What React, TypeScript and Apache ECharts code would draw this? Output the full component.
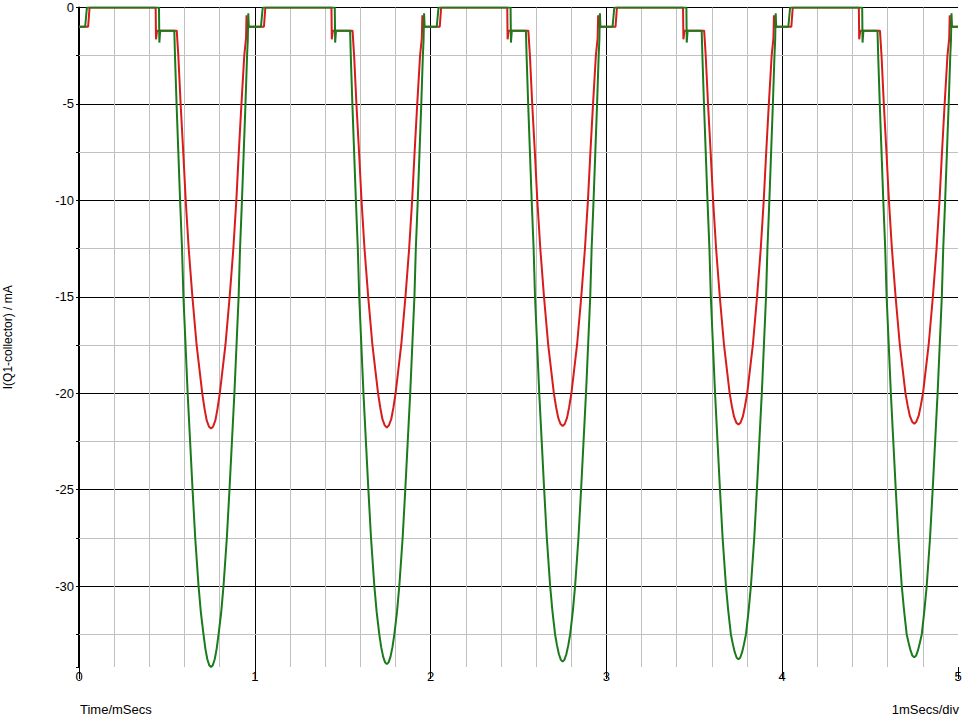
import React, { useEffect, useRef } from "react";
import * as echarts from "echarts";

// Phase (ms within one 1 ms period) at which each red sample was read
const redPhase = [
  0, 0.052, 0.06, 0.436, 0.438, 0.444, 0.556,
  0.565, 0.578, 0.593, 0.607, 0.624, 0.645, 0.669, 0.701,
  0.714, 0.726, 0.739, 0.751, 0.763, 0.776, 0.788,
  0.801, 0.833, 0.857, 0.878, 0.895, 0.909, 0.924, 0.94,
  0.95, 0.953, 0.956,
];
// Red trace values (mA), one array per period
const redCycle1 = [-1, -1, 0, 0, -1.65, -1.2, -1.2, -2.5, -5, -7.5, -10, -12.5, -15, -17.5, -20, -20.8, -21.4, -21.73, -21.84, -21.73, -21.4, -20.8, -20, -17.5, -15, -12.5, -10, -7.5, -5, -2.5, -1.6, -0.4, -1];
const redCycle2 = [-1, -1, 0, 0, -1.65, -1.2, -1.2, -2.5, -5, -7.5, -10, -12.5, -15, -17.5, -20, -20.77, -21.35, -21.67, -21.78, -21.67, -21.35, -20.77, -20, -17.5, -15, -12.5, -10, -7.5, -5, -2.5, -1.6, -0.4, -1];
const redCycle3 = [-1, -1, 0, 0, -1.65, -1.2, -1.2, -2.5, -5, -7.5, -10, -12.5, -15, -17.5, -20, -20.73, -21.28, -21.6, -21.7, -21.6, -21.28, -20.73, -20, -17.5, -15, -12.5, -10, -7.5, -5, -2.5, -1.6, -0.4, -1];
const redCycle4 = [-1, -1, 0, 0, -1.65, -1.2, -1.2, -2.5, -5, -7.5, -10, -12.5, -15, -17.5, -20, -20.69, -21.22, -21.53, -21.63, -21.53, -21.22, -20.69, -20, -17.5, -15, -12.5, -10, -7.5, -5, -2.5, -1.6, -0.4, -1];
const redCycle5 = [-1, -1, 0, 0, -1.65, -1.2, -1.2, -2.5, -5, -7.5, -10, -12.5, -15, -17.5, -20, -20.66, -21.18, -21.48, -21.58, -21.48, -21.18, -20.66, -20, -17.5, -15, -12.5, -10, -7.5, -5, -2.5, -1.6, -0.4, -1];

// Phase at which each green sample was read
const greenPhase = [
  0, 0.035, 0.045, 0.455, 0.457, 0.462, 0.542,
  0.546, 0.555, 0.565, 0.575, 0.586, 0.594, 0.606, 0.618, 0.632, 0.646, 0.661, 0.68, 0.693, 0.708,
  0.719, 0.73, 0.741, 0.751, 0.761, 0.772, 0.783,
  0.794, 0.809, 0.822, 0.841, 0.856, 0.87, 0.884, 0.896, 0.908, 0.916, 0.927, 0.937, 0.947, 0.956,
  0.96, 0.963, 0.966,
];
const greenCycle1 = [-1, -1, 0, 0, -1.82, -1.2, -1.2, -2.5, -5, -7.5, -10, -12.5, -15, -17.5, -20, -22.5, -25, -27.5, -30, -31.35, -32.5, -33.26, -33.8, -34.11, -34.2, -34.11, -33.8, -33.26, -32.5, -31.35, -30, -27.5, -25, -22.5, -20, -17.5, -15, -12.5, -10, -7.5, -5, -2.5, -1.7, -0.3, -1];
const greenCycle2 = [-1, -1, 0, 0, -1.82, -1.2, -1.2, -2.5, -5, -7.5, -10, -12.5, -15, -17.5, -20, -22.5, -25, -27.5, -30, -31.33, -32.5, -33.17, -33.66, -33.96, -34.05, -33.96, -33.66, -33.17, -32.5, -31.33, -30, -27.5, -25, -22.5, -20, -17.5, -15, -12.5, -10, -7.5, -5, -2.5, -1.7, -0.3, -1];
const greenCycle3 = [-1, -1, 0, 0, -1.82, -1.2, -1.2, -2.5, -5, -7.5, -10, -12.5, -15, -17.5, -20, -22.5, -25, -27.5, -30, -31.3, -32.5, -33.08, -33.54, -33.83, -33.92, -33.83, -33.54, -33.08, -32.5, -31.3, -30, -27.5, -25, -22.5, -20, -17.5, -15, -12.5, -10, -7.5, -5, -2.5, -1.7, -0.3, -1];
const greenCycle4 = [-1, -1, 0, 0, -1.82, -1.2, -1.2, -2.5, -5, -7.5, -10, -12.5, -15, -17.5, -20, -22.5, -25, -27.5, -30, -31.28, -32.5, -33.0, -33.43, -33.72, -33.8, -33.72, -33.43, -33.0, -32.5, -31.28, -30, -27.5, -25, -22.5, -20, -17.5, -15, -12.5, -10, -7.5, -5, -2.5, -1.7, -0.3, -1];
const greenCycle5 = [-1, -1, 0, 0, -1.82, -1.2, -1.2, -2.5, -5, -7.5, -10, -12.5, -15, -17.5, -20, -22.5, -25, -27.5, -30, -31.25, -32.5, -32.94, -33.34, -33.62, -33.7, -33.62, -33.34, -32.94, -32.5, -31.25, -30, -27.5, -25, -22.5, -20, -17.5, -15, -12.5, -10, -7.5, -5, -2.5, -1.7, -0.3, -1];

const cycleStarts = [0, 1, 2, 3, 4];
const endTime = 5;
const redEnd = -1;
const greenEnd = -1;

const yMin = -34.2;
const yMax = 0;
const yMinorGrid = [-2.5, -7.5, -12.5, -17.5, -22.5, -27.5, -32.5];
const xTitle = "Time/mSecs";
const xScaleNote = "1mSecs/div";
const yTitle = "I(Q1-collector) / mA";

function build(phase: number[], cycles: number[][], endVal: number) {
  const out: number[][] = [];
  cycles.forEach((vals, ci) => {
    phase.forEach((p, i) => out.push([cycleStarts[ci] + p, vals[i]]));
  });
  out.push([endTime, endVal]);
  return out;
}

const FONT = 'Arial, "Liberation Sans", sans-serif';

export default function App() {
  const ref = useRef<HTMLDivElement>(null);
  useEffect(() => {
    if (!ref.current) return;
    const chart = echarts.init(ref.current, undefined, { renderer: "svg" });
    const redData = build(redPhase, [redCycle1, redCycle2, redCycle3, redCycle4, redCycle5], redEnd);
    const greenData = build(greenPhase, [greenCycle1, greenCycle2, greenCycle3, greenCycle4, greenCycle5], greenEnd);
    chart.setOption({
      animation: false,
      backgroundColor: "#ffffff",
      textStyle: { fontFamily: FONT },
      grid: { left: 79, right: 5, top: 7.5, bottom: 49, containLabel: false, outerBoundsMode: "none" },
      xAxis: {
        type: "value",
        min: 0,
        max: 5,
        interval: 1,
        axisLine: { show: false, onZero: false },
        axisTick: { show: true, length: 12, lineStyle: { color: "#000" } },
        axisLabel: { color: "#000", fontSize: 13, margin: 3, fontFamily: FONT },
        splitLine: { show: true, showMinLine: false, showMaxLine: false, lineStyle: { color: "#000", width: 1 } },
        minorTick: { show: false, splitNumber: 5 },
        minorSplitLine: { show: true, lineStyle: { color: "#c0c0c0", width: 1 } },
      },
      yAxis: {
        type: "value",
        min: yMin,
        max: yMax,
        splitNumber: 7,
        axisLine: { show: true, onZero: false, lineStyle: { color: "#000", width: 2 } },
        axisTick: { show: true, length: 3, lineStyle: { color: "#000" } },
        minorTick: { show: true, splitNumber: 2, length: 3, lineStyle: { color: "#000" } },
        axisLabel: { color: "#000", fontSize: 13, margin: 5, showMinLabel: false, fontFamily: FONT },
        splitLine: { show: true, showMinLine: false, lineStyle: { color: "#000", width: 1 } },
        name: yTitle,
        nameLocation: "middle",
        nameGap: 65,
        nameTextStyle: { color: "#000", fontSize: 12, fontFamily: FONT },
      },
      graphic: [
        { type: "text", x: 80, y: 709, style: { text: xTitle, fill: "#000", font: `13px ${FONT}`, align: "left", verticalAlign: "middle" } },
        { type: "text", x: 959, y: 709, style: { text: xScaleNote, fill: "#000", font: `13px ${FONT}`, align: "right", verticalAlign: "middle" } },
      ],
      series: [
        {
          type: "line",
          data: redData,
          showSymbol: false,
          symbol: "none",
          silent: true,
          z: 2,
          lineStyle: { color: "#d81c1c", width: 2 },
          itemStyle: { color: "#d81c1c" },
          markLine: {
            silent: true,
            z: 1,
            symbol: ["none", "none"],
            label: { show: false },
            lineStyle: { color: "#c0c0c0", type: "solid", width: 1 },
            emphasis: { disabled: true },
            data: yMinorGrid.map((v) => ({ yAxis: v })),
          },
        },
        {
          type: "line",
          data: greenData,
          showSymbol: false,
          symbol: "none",
          silent: true,
          z: 3,
          lineStyle: { color: "#1b7a1b", width: 2 },
          itemStyle: { color: "#1b7a1b" },
        },
      ],
    });
    return () => chart.dispose();
  }, []);
  return (
    <div
      ref={ref}
      style={{ position: "absolute", left: 0, top: 0, width: 963, height: 716 }}
    />
  );
}
